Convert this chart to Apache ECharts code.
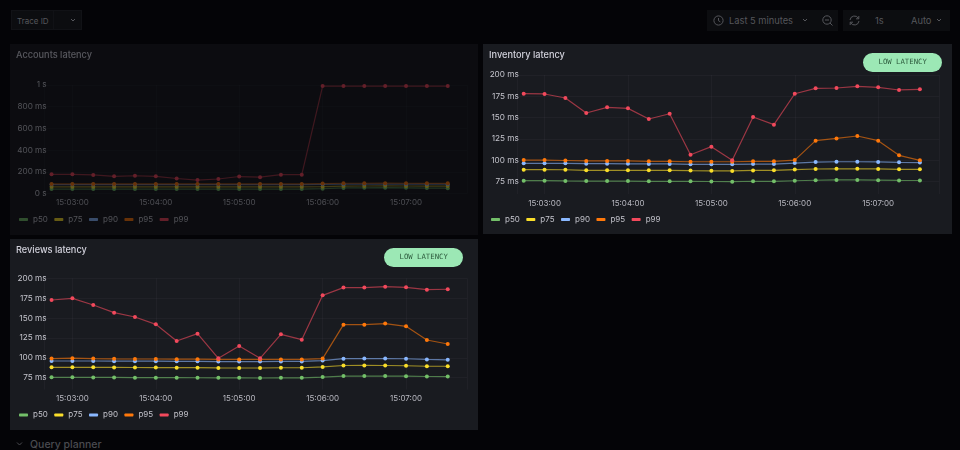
<!DOCTYPE html>
<html>
<head>
<meta charset="utf-8">
<script src="https://cdn.jsdelivr.net/npm/echarts@6/dist/echarts.min.js"></script>
<style>
html, body { margin: 0; width: 960px; height: 450px; overflow: hidden; background: #040407; font-family: Inter, sans-serif; }
.panel { position: absolute; background: #191b20; }
.bar { position: absolute; top: 10px; height: 21px; background: #0c0d10; color: #55565b; font-size: 9.3px; }
.bar span, .bar svg { position: absolute; }
.bar span { top: 5px; white-space: nowrap; }
.bar svg { fill: none; stroke: #55565b; }
#row { position: absolute; left: 30px; top: 438px; color: #4a4b50; font-size: 10.5px; font-weight: 500; }
</style>
</head>
<body>
<div class="bar" style="left:11px;width:71px;height:20px;border:1px solid #111216;box-sizing:border-box">
  <span style="left:5px;font-size:8px">Trace ID</span>
  <div style="position:absolute;left:41px;top:0;width:1px;height:18px;background:#111216"></div>
  <svg style="left:58px;top:7px" width="6" height="5"><path d="M1 1 L3 3 L5 1"/></svg>
</div>
<div class="bar" style="left:707px;width:131px">
  <svg style="left:5px;top:4px" width="13" height="13"><circle cx="6.5" cy="6.5" r="4.6"/><path d="M6.5 4 V6.7 L8.3 7.8"/></svg>
  <span style="left:22px">Last 5 minutes</span>
  <svg style="left:95px;top:8px" width="6" height="5"><path d="M1 1 L3 3 L5 1"/></svg>
  <svg style="left:114px;top:4px" width="13" height="13"><circle cx="6" cy="6" r="4.2"/><path d="M4 6 H8 M9 9 L11.5 11.5"/></svg>
</div>
<div class="bar" style="left:843px;width:107px">
  <svg style="left:5px;top:4px" width="13" height="13"><path d="M2 6 A4.5 4.5 0 0 1 10.5 4.5 M11 7 A4.5 4.5 0 0 1 2.5 8.5 M10.8 2 V4.8 H8 M2.2 11 V8.2 H5"/></svg>
  <span style="left:32px">1s</span>
  <span style="left:68px">Auto</span>
  <svg style="left:93px;top:8px" width="6" height="5"><path d="M1 1 L3 3 L5 1"/></svg>
</div>

<div id="accounts" class="panel" style="left:10px;top:44px;width:468px;height:191px;opacity:.4"></div>
<div id="inventory" class="panel" style="left:483px;top:44px;width:469px;height:190px"></div>
<div id="reviews" class="panel" style="left:10px;top:239px;width:468px;height:191px"></div>

<svg style="position:absolute;left:16px;top:441px" width="7" height="6" fill="none" stroke="#4a4b50"><path d="M1 1.5 L3.5 4 L6 1.5"/></svg>
<div id="row">Query planner</div>

<script>
var seriesNames = ['p50', 'p75', 'p90', 'p95', 'p99'];
var seriesColors = ['#73BF69', '#FADE2A', '#8AB8FF', '#FF780A', '#F2495C'];

var times = ['15:02:45', '15:03:00', '15:03:15', '15:03:30', '15:03:45', '15:04:00', '15:04:15', '15:04:30', '15:04:45', '15:05:00',
             '15:05:15', '15:05:30', '15:05:45', '15:06:00', '15:06:15', '15:06:30', '15:06:45', '15:07:00', '15:07:15', '15:07:30'];

var accountsP50 = [43, 43, 43, 43, 43, 43, 43, 43, 43, 43, 43, 43, 43, 46, 53, 54, 55, 54, 52, 51];
var accountsP75 = [63, 63, 63, 63, 63, 63, 63, 63, 63, 63, 63, 63, 63, 65, 70, 71, 72, 71, 70, 70];
var accountsP90 = [84, 84, 84, 84, 84, 84, 84, 84, 84, 84, 84, 84, 84, 86, 88, 89, 89, 88, 88, 88];
var accountsP95 = [90, 90, 90, 90, 90, 90, 90, 90, 90, 90, 90, 90, 90, 93, 96, 96, 97, 96, 95, 95];
var accountsP99 = [178, 178, 173, 160, 165, 160, 140, 125, 135, 158, 152, 175, 175, 990, 990, 990, 990, 990, 990, 990];

var inventoryP50 = [75.8, 75.8, 75.5, 75.3, 75.3, 75.3, 75, 75.1, 75, 74.8, 74.6, 75.1, 75, 75.7, 76.3, 76.7, 76.7, 76.4, 76.1, 76];
var inventoryP75 = [88.7, 88.7, 88.6, 88, 88, 88, 87.9, 87.9, 87.6, 87.4, 87.2, 87.8, 87.9, 88.8, 89.5, 89.8, 89.7, 89.6, 89.1, 89.1];
var inventoryP90 = [96.2, 96.2, 96.2, 95.8, 95.8, 95.6, 95.5, 95.5, 95, 95, 95, 95.3, 95.3, 96.5, 97.7, 98, 98, 97.8, 97.3, 97];
var inventoryP95 = [100, 100, 99.5, 99, 99, 99, 98.5, 98.5, 98, 98, 98, 98.5, 98.5, 100, 122.8, 125.5, 128.3, 122.8, 105.6, 99.7];
var inventoryP99 = [178, 177.7, 173, 155.3, 162, 160.8, 148.3, 154.5, 106.3, 115.8, 99.7, 150.6, 141.6, 178, 184.3, 184.7, 186.7, 185.5, 182.4, 183.2];

var reviewsP50 = [75.4, 75.4, 75.3, 75.3, 75, 75, 75, 74.9, 74.8, 74.9, 74.6, 74.9, 74.8, 75.8, 77, 77, 77, 76.9, 76.5, 76.4];
var reviewsP75 = [88, 88, 88, 87.9, 87.8, 87.7, 87.6, 87.6, 87.3, 87.2, 87.2, 87.5, 87.5, 88.5, 90.3, 90.4, 90.3, 90, 89.4, 89.4];
var reviewsP90 = [96, 96, 96, 95.8, 95.8, 95.7, 95.6, 95.6, 95.2, 95.2, 95.2, 95.4, 95.4, 96.5, 98.9, 99, 99, 98.8, 98, 97.5];
var reviewsP95 = [99, 99.5, 99, 98.7, 98.5, 98.5, 98.3, 98.3, 98, 98, 98, 98, 98, 99, 141.7, 141.7, 143, 139.6, 122.4, 117.4];
var reviewsP99 = [172.7, 174.8, 166.4, 156.8, 151.3, 142.1, 121.1, 130.4, 99.3, 114.8, 99.3, 129.5, 122.8, 178.6, 188.3, 188.3, 189.5, 188.7, 185.7, 186.2];

var msTicks = [75, 100, 125, 150, 175, 200];
var accountsTicks = [0, 200, 400, 600, 800, 1000];

function stamp(t) {
    return new Date('2024-05-14T' + t).getTime();
}

function msLabel(v) {
    if (v === 0) return '0 s';
    if (v >= 1000) return (v / 1000) + ' s';
    return v + ' ms';
}

function drawPanel(id, title, values, yMin, yMax, yTicks, gridLeft, gridTop, gridHeight, legendLeft, legendTop, badgeLeft) {
    var chart = echarts.init(document.getElementById(id));
    var graphic = [];
    if (badgeLeft) {
        graphic.push({
            type: 'rect', left: badgeLeft, top: 9,
            shape: { width: 79, height: 19, r: 9.5 },
            style: { fill: '#9CE8B5' }
        });
        graphic.push({
            type: 'text', left: badgeLeft + 15.5, top: 15,
            style: { text: 'LOW LATENCY', fill: '#2C5A3C', font: '7.3px "DejaVu Sans Mono"' }
        });
    }
    chart.setOption({
        animation: false,
        title: {
            text: title, left: 6, top: 7, padding: 0,
            textStyle: { color: '#d2d2dc', fontSize: 9.2, fontWeight: 500, fontFamily: 'Inter' }
        },
        legend: {
            left: legendLeft, top: legendTop, padding: 0,
            icon: 'roundRect', itemWidth: 9, itemHeight: 3, itemGap: 6.5,
            textStyle: { color: '#c4c4cc', fontSize: 8, fontFamily: 'Inter' },
            data: seriesNames
        },
        grid: { left: gridLeft, top: gridTop, width: 422.6, height: gridHeight },
        xAxis: {
            type: 'time',
            min: stamp('15:02:40'),
            max: stamp('15:07:44'),
            minInterval: 60000,
            maxInterval: 60000,
            axisLine: { show: false },
            axisTick: { show: false },
            splitLine: { show: true, lineStyle: { color: 'rgba(204,204,220,0.04)', width: 1 } },
            axisLabel: {
                showMinLabel: false,
                showMaxLabel: false,
                margin: 5,
                color: '#b8b8c0', fontSize: 8, fontFamily: 'Inter',
                formatter: function (v) { return echarts.time.format(v, '{HH}:{mm}:{ss}'); }
            }
        },
        yAxis: {
            type: 'value',
            min: yMin,
            max: yMax,
            axisLine: { show: false },
            axisTick: { show: false, customValues: yTicks },
            splitLine: { show: true, lineStyle: { color: 'rgba(204,204,220,0.04)', width: 1 } },
            axisLabel: {
                customValues: yTicks,
                margin: -2,
                color: '#c4c4cc', fontSize: 8.2, fontFamily: 'Inter',
                formatter: msLabel
            }
        },
        graphic: graphic,
        series: values.map(function (vals, i) {
            return {
                name: seriesNames[i],
                type: 'line',
                symbol: 'circle',
                symbolSize: 4,
                color: seriesColors[i],
                lineStyle: { width: 1.2, opacity: 0.6 },
                data: vals.map(function (v, j) { return [stamp(times[j]), v]; })
            };
        })
    });
}

drawPanel('accounts', 'Accounts latency',
    [accountsP50, accountsP75, accountsP90, accountsP95, accountsP99],
    0, 1000, accountsTicks, 34.6, 41, 108.7, 9, 171.5, 0);
drawPanel('inventory', 'Inventory latency',
    [inventoryP50, inventoryP75, inventoryP90, inventoryP95, inventoryP99],
    60, 200, msTicks, 33.75, 31, 119.1, 8, 171.5, 380);
drawPanel('reviews', 'Reviews latency',
    [reviewsP50, reviewsP75, reviewsP90, reviewsP95, reviewsP99],
    60, 200, msTicks, 34.6, 39.3, 111.3, 9, 172, 374);
</script>
</body>
</html>
